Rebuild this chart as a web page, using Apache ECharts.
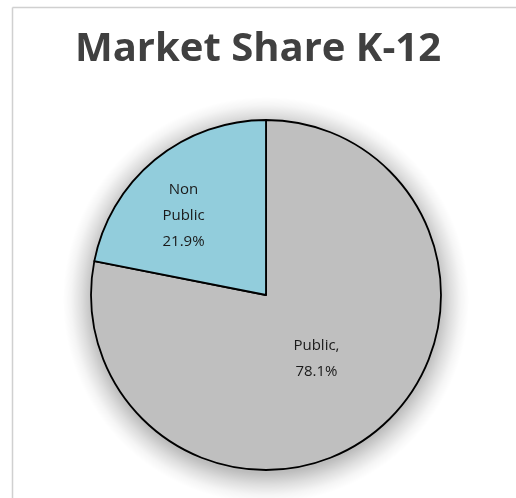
<!DOCTYPE html>
<html>
<head>
<meta charset="utf-8">
<script src="https://cdn.jsdelivr.net/npm/echarts@6/dist/echarts.min.js"></script>
<style>
  html, body { margin: 0; padding: 0; background: #fff; }
  #chart { width: 516px; height: 498px; }
</style>
</head>
<body>
<div id="chart"></div>
<script>
const categories = ['Public', 'Non Public'];
const shares = [78.1, 21.9];
const colors = ['#bfbfbf', '#92cddc'];
const labelTexts = ['Public,\n78.1%', 'Non\nPublic\n21.9%'];

const chart = echarts.init(document.getElementById('chart'));

const data = categories.map(function (name, i) {
  return {
    name: name,
    value: shares[i],
    itemStyle: { color: colors[i] },
    label: {
      formatter: labelTexts[i],
      offset: name === 'Non Public' ? [-25, -9] : [-7, -6]
    }
  };
});

const center = [266, 295];
const radius = 175;
const glow = 28;

// soft glow: a wider disc filled with a radial fade, sitting under the pie
const glowFill = new echarts.graphic.RadialGradient(0.5, 0.5, 0.5, [
  { offset: 0, color: 'rgba(0,0,0,0.3)' },
  { offset: radius / (radius + glow) - 0.01, color: 'rgba(0,0,0,0.26)' },
  { offset: 0.91, color: 'rgba(0,0,0,0.13)' },
  { offset: 0.96, color: 'rgba(0,0,0,0.04)' },
  { offset: 1, color: 'rgba(0,0,0,0)' }
]);

chart.setOption({
  animation: false,
  title: {
    text: 'Market Share K-12',
    left: 'center',
    top: 25,
    textStyle: {
      fontFamily: 'Open Sans',
      fontWeight: 'bold',
      fontSize: 40,
      color: '#404040'
    }
  },
  graphic: [
    {
      type: 'line',
      shape: { x1: 12.5, y1: 7.5, x2: 516, y2: 7.5 },
      style: { stroke: '#d0d0d0', lineWidth: 1.5 },
      silent: true
    },
    {
      type: 'line',
      shape: { x1: 12.5, y1: 7.5, x2: 12.5, y2: 498 },
      style: { stroke: '#d0d0d0', lineWidth: 1.5 },
      silent: true
    }
  ],
  series: [
    {
      type: 'pie',
      center: [center[0], center[1] + 5],
      radius: radius + glow,
      silent: true,
      z: 1,
      label: { show: false },
      labelLine: { show: false },
      itemStyle: { color: glowFill, borderWidth: 0 },
      emphasis: { disabled: true },
      data: [{ value: 1, name: 'glow' }]
    },
    {
      type: 'pie',
      center: center,
      radius: radius,
      startAngle: 90,
      clockwise: true,
      z: 2,
      label: {
        show: true,
        position: 'inside',
        fontFamily: 'Open Sans',
        fontSize: 15,
        lineHeight: 26,
        color: '#1a1a1a'
      },
      labelLine: { show: false },
      itemStyle: {
        borderColor: '#000',
        borderWidth: 1.8
      },
      emphasis: { disabled: true },
      data: data
    }
  ]
});
</script>
</body>
</html>
